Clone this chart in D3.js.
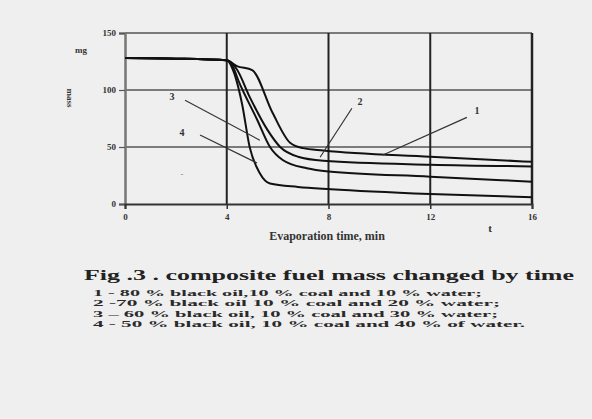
<!DOCTYPE html>
<html><head><meta charset="utf-8">
<script src="https://cdn.jsdelivr.net/npm/d3@7"></script>
<style>
html,body{margin:0;padding:0;background:#efefef;}
svg{display:block;}
</style></head>
<body>
<script>
// ---- data ----
const xTicks = [0, 4, 8, 12, 16];
const yTicks = [0, 50, 100, 150];
const xTickLabels = ["0", "4", "8", "12", "16"];
const yTickLabels = ["0", "50", "100", "150"];

const t1 = [0, 2, 4, 4.4, 5.0, 5.8, 6.5, 7.0, 7.8, 12, 16];
const m1 = [128, 127.5, 126, 121, 117.5, 80, 53.5, 49, 47, 41.5, 37];
const t2 = [0, 2, 4, 4.4, 4.9, 5.6, 6.1, 6.8, 7.8, 12, 16];
const m2 = [128, 127.5, 126, 118, 94, 65, 50, 41.5, 38, 34.5, 33];
const t3 = [0, 2, 4, 4.2, 4.5, 5.2, 5.7, 6.2, 7.15, 8, 12, 16];
const m3 = [128, 127.5, 126, 122, 106, 73.7, 50, 38.6, 31.3, 28.5, 24, 19.6];
const t4 = [0, 2, 4, 4.2, 4.6, 4.9, 5.3, 5.7, 6.8, 8.1, 12, 16];
const m4 = [128, 127.5, 126, 120, 88, 50, 27, 18, 15, 13, 8.8, 5.9];

const seriesNames = ["1", "2", "3", "4"];
// annotation labels & leader lines in data units (t, m)
const labelT = [13.84, 9.24, 1.85, 2.24];
const labelM = [80.7, 88.6, 93, 62];
const leadT0 = [13.44, 8.92, 2.36, 2.95];
const leadM0 = [76, 84, 91, 60.5];
const leadT1 = [10.14, 7.67, 5.3, 5.19];
const leadM1 = [43, 41, 56, 36];

const legendLines = [
  "1 - 80  % black oil,10  % coal and 10 % water;",
  "2 -70  % black oil 10  % coal and 20 % water;",
  "3 \u2013 60 % black oil, 10  % coal and 30 % water;",
  "4 - 50 % black oil, 10 % coal and 40  % of water."
];

// ---- drawing ----
const W = 592, H = 419;
const svg = d3.select("body").append("svg").attr("width", W).attr("height", H);
svg.append("rect").attr("width", W).attr("height", H).attr("fill", "#efefef");

const x = d3.scaleLinear().domain([0, 16]).range([125, 532]);
const y = d3.scaleLinear().domain([0, 150]).range([204, 33]);

const g = svg.append("g");

// horizontal grid
g.selectAll("line.hg").data(yTicks.filter(v => v > 0)).join("line")
  .attr("x1", x(0)).attr("x2", x(16)).attr("y1", d => y(d)).attr("y2", d => y(d))
  .attr("stroke", "#555").attr("stroke-width", 1.5);
// vertical grid
g.selectAll("line.vg").data(xTicks.filter(v => v > 0)).join("line")
  .attr("y1", y(150)).attr("y2", y(0)).attr("x1", d => x(d)).attr("x2", d => x(d))
  .attr("stroke", "#222").attr("stroke-width", d => d === 16 ? 2.5 : 2);

// y axis
const yAxis = d3.axisLeft(y).tickValues(yTicks).tickFormat((d, i) => yTickLabels[i]).tickSize(6).tickPadding(3);
const ya = svg.append("g").attr("transform", `translate(${x(0)},0)`).call(yAxis);
ya.select(".domain").attr("stroke", "#777").attr("stroke-width", 2.5);
ya.selectAll(".tick line").attr("stroke", "#555").attr("stroke-width", 1.2);
ya.selectAll("text").attr("font-family", "Liberation Serif").attr("font-weight", "bold").attr("font-size", 9).attr("fill", "#333");

// x axis
const xAxis = d3.axisBottom(x).tickValues(xTicks).tickFormat((d, i) => xTickLabels[i]).tickSize(5).tickPadding(5);
const xa = svg.append("g").attr("transform", `translate(0,${y(0)})`).call(xAxis);
xa.select(".domain").attr("stroke", "#333").attr("stroke-width", 2);
xa.selectAll(".tick line").attr("stroke", "#333").attr("stroke-width", 1.5);
xa.selectAll("text").attr("font-family", "Liberation Serif").attr("font-weight", "bold").attr("font-size", 9).attr("fill", "#333");

// curves
const ts = [t1, t2, t3, t4], ms = [m1, m2, m3, m4];
const line = d3.line().x(d => x(d[0])).y(d => y(d[1])).curve(d3.curveMonotoneX);
ts.forEach((tt, i) => {
  const pts = tt.map((t, j) => [t, ms[i][j]]);
  svg.append("path").attr("d", line(pts)).attr("fill", "none")
    .attr("stroke", "#111").attr("stroke-width", 2);
});

// annotations
seriesNames.forEach((n, i) => {
  svg.append("line")
    .attr("x1", x(leadT0[i])).attr("y1", y(leadM0[i]))
    .attr("x2", x(leadT1[i])).attr("y2", y(leadM1[i]))
    .attr("stroke", "#333").attr("stroke-width", 1.2);
  svg.append("text").attr("x", x(labelT[i])).attr("y", y(labelM[i]))
    .attr("text-anchor", "middle").attr("dominant-baseline", "middle")
    .attr("font-family", "Liberation Serif").attr("font-weight", "bold").attr("font-size", 10)
    .attr("fill", "#333").text(n);
});
svg.append("text").attr("x", x(2.24)).attr("y", y(25.4)).attr("text-anchor", "middle")
  .attr("dominant-baseline", "middle").attr("font-family", "Liberation Serif")
  .attr("font-size", 9).attr("fill", "#888").text("-");

// axis titles
svg.append("text").attr("x", 81).attr("y", 53).attr("text-anchor", "middle")
  .attr("font-family", "Liberation Serif").attr("font-weight", "bold").attr("font-size", 9).attr("fill", "#333").text("mg");
svg.append("text").attr("transform", "translate(67,98) rotate(90)").attr("text-anchor", "middle")
  .attr("font-family", "Liberation Serif").attr("font-weight", "bold").attr("font-size", 9).attr("fill", "#333").text("mass");
svg.append("text").attr("x", 490).attr("y", 232).attr("text-anchor", "middle")
  .attr("font-family", "Liberation Serif").attr("font-weight", "bold").attr("font-size", 11).attr("fill", "#333").text("t");
svg.append("text").attr("x", 327).attr("y", 240).attr("text-anchor", "middle")
  .attr("font-family", "Liberation Serif").attr("font-weight", "bold").attr("font-size", 12).attr("fill", "#333").text("Evaporation time, min");

// caption
svg.append("text").attr("x", 84).attr("y", 280)
  .attr("font-family", "Liberation Serif").attr("font-weight", "bold").attr("font-size", 15.5).attr("fill", "#222")
  .attr("textLength", 490).attr("lengthAdjust", "spacingAndGlyphs")
  .text("Fig .3 . composite fuel mass changed by time");

// legend
const legendWidths = [389, 407, 405, 432];
legendLines.forEach((s, i) => {
  svg.append("text").attr("x", 93).attr("y", 296 + i * 10.4)
    .attr("font-family", "Liberation Serif").attr("font-size", 9).attr("font-weight", "bold")
    .attr("fill", "#2a2a2a")
    .attr("textLength", legendWidths[i]).attr("lengthAdjust", "spacingAndGlyphs")
    .text(s);
});
</script>
</body></html>
